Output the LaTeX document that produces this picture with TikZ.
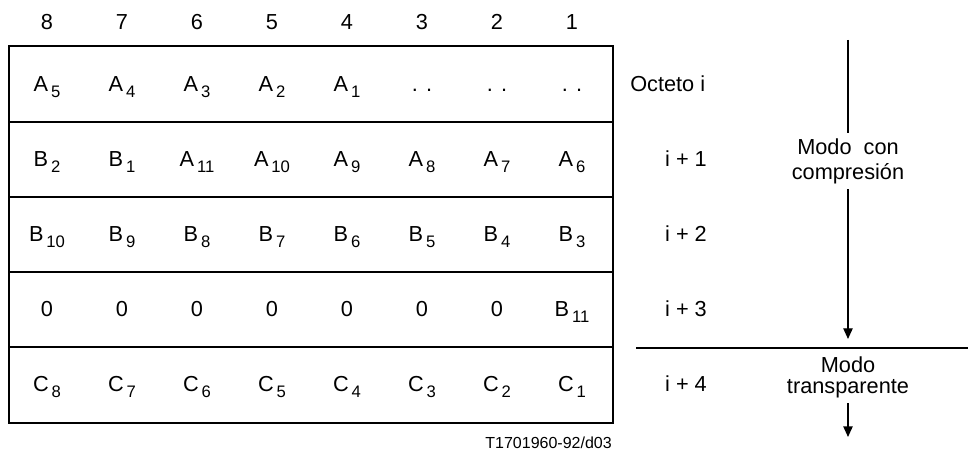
\documentclass[tikz,border=0pt]{standalone}
\usepackage{fontspec}
\setmainfont{Liberation Sans}
\usetikzlibrary{arrows.meta}
\newcommand{\bitsub}[2]{#1\kern2.2pt\raisebox{-4.2pt}{\fontsize{12.5}{13}\selectfont #2}}

\begin{document}
\begin{tikzpicture}[x=0.75pt, y=-0.75pt,
  every node/.style={font=\fontsize{16.3}{18.75}\selectfont, inner sep=0pt},
  cell/.style={anchor=base},
  frame/.style={line width=1.1pt},
  flow/.style={line width=1pt, -{Triangle[length=8pt,width=7pt]}},
  modelabel/.style={align=center, inner ysep=4pt}]
  \useasboundingbox (0,0) rectangle (968,452);

  % Octet frame and row separators
  \draw[frame] (9,46) rectangle (613,423);
  \foreach \y in {122,197,272,347}
    \draw[frame] (9,\y) -- (613,\y);

  % Bit numbers
  \foreach \b [count=\i from 0] in {8,7,6,5,4,3,2,1}
    \node[cell] (bit\b) at (47+75*\i,30) {\b};

  % Octet contents, one row at a time
  \foreach \t [count=\i from 0] in {\bitsub{A}{5},\bitsub{A}{4},\bitsub{A}{3},\bitsub{A}{2},\bitsub{A}{1},. .,. .,. .}
    \node[cell] (a\i) at (47+75*\i,92) {\t};
  \foreach \t [count=\i from 0] in {\bitsub{B}{2},\bitsub{B}{1},\bitsub{A}{11},\bitsub{A}{10},\bitsub{A}{9},\bitsub{A}{8},\bitsub{A}{7},\bitsub{A}{6}}
    \node[cell] (b\i) at (47+75*\i,167) {\t};
  \foreach \t [count=\i from 0] in {\bitsub{B}{10},\bitsub{B}{9},\bitsub{B}{8},\bitsub{B}{7},\bitsub{B}{6},\bitsub{B}{5},\bitsub{B}{4},\bitsub{B}{3}}
    \node[cell] (c\i) at (47+75*\i,242) {\t};
  \foreach \t [count=\i from 0] in {0,0,0,0,0,0,0,\bitsub{B}{11}}
    \node[cell] (d\i) at (47+75*\i,317) {\t};
  \foreach \t [count=\i from 0] in {\bitsub{C}{8},\bitsub{C}{7},\bitsub{C}{6},\bitsub{C}{5},\bitsub{C}{4},\bitsub{C}{3},\bitsub{C}{2},\bitsub{C}{1}}
    \node[cell] (e\i) at (47+75*\i,392) {\t};

  % Octet numbering
  \node[anchor=base west] (oct0) at (630,92) {Octeto i};
  \node[cell] (oct1) at (686,167) {i + 1};
  \node[cell] (oct2) at (686,242) {i + 2};
  \node[cell] (oct3) at (686,317) {i + 3};
  \node[cell] (oct4) at (686,392) {i + 4};

  % Compressed mode
  \coordinate (comptop) at (848,40);
  \coordinate (compend) at (848,339);
  \node[modelabel] (compmode) at (848,161) {Modo\ \ con\\compresión};
  \draw[line width=1pt] (comptop) -- (compmode.north);
  \draw[flow] (compmode.south) -- (compend);

  % Mode boundary
  \coordinate (sepw) at (636,348);
  \coordinate (sepe) at (968,348);
  \draw[frame] (sepw) -- (sepe);

  % Transparent mode
  \coordinate (transend) at (848,437);
  \node[modelabel, font=\fontsize{16.3}{15.75}\selectfont] (transmode) at (848,377) {Modo\\transparente};
  \draw[flow] (transmode.south) -- (transend);

  \node[anchor=base east, font=\fontsize{12}{14}\selectfont] (figref) at (612,448) {T1701960-92/d03};
\end{tikzpicture}
\end{document}
